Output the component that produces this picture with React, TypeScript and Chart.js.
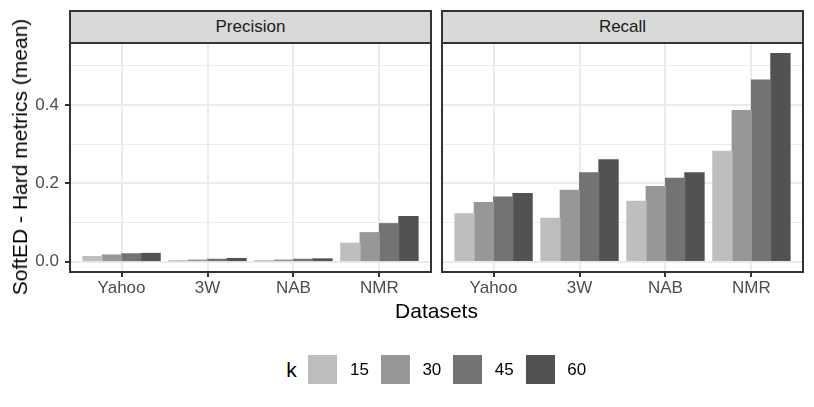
import React, { useEffect, useRef } from "react";
import { Chart, registerables } from "chart.js";

Chart.register(...registerables);

// ---------- data ----------
const categories = ["Yahoo", "3W", "NAB", "NMR"];
const kLevels = ["15", "30", "45", "60"];

const precision15 = [0.013, 0.002, 0.002, 0.047];
const precision30 = [0.017, 0.004, 0.004, 0.074];
const precision45 = [0.02, 0.006, 0.006, 0.097];
const precision60 = [0.021, 0.008, 0.007, 0.115];

const recall15 = [0.122, 0.111, 0.154, 0.282];
const recall30 = [0.151, 0.182, 0.192, 0.386];
const recall45 = [0.165, 0.227, 0.213, 0.464];
const recall60 = [0.174, 0.26, 0.227, 0.532];

const yTicks = [0, 0.1, 0.2, 0.3, 0.4, 0.5];
const yTickLabels = ["0.0", "", "0.2", "", "0.4", ""];

// ---------- style ----------
const FONT = "'Liberation Sans', Arial, Helvetica, sans-serif";
const fills = ["#BEBEBE", "#979797", "#737373", "#525252"];
const Y_MIN = -0.0266;
const Y_MAX = 0.5586;

Chart.defaults.font.family = FONT;

type PanelProps = {
  series: number[][];
  showY: boolean;
  canvasLeft: number;
  canvasWidth: number;
  yAxisWidth: number;
  padRight: number;
};

const CANVAS_H = 300;
const AREA_TOP = 43;
const AREA_BOTTOM = 272;

const borderPlugin = {
  id: "panelBorder",
  afterDraw(chart: any) {
    const { ctx, chartArea } = chart;
    ctx.save();
    ctx.strokeStyle = "#333333";
    ctx.lineWidth = 2;
    ctx.strokeRect(
      chartArea.left,
      chartArea.top,
      chartArea.right - chartArea.left,
      chartArea.bottom - chartArea.top
    );
    ctx.restore();
  },
};

function Panel({ series, showY, canvasLeft, canvasWidth, yAxisWidth, padRight }: PanelProps) {
  const ref = useRef<HTMLCanvasElement | null>(null);
  useEffect(() => {
    if (!ref.current) return;
    const chart = new Chart(ref.current, {
      type: "bar",
      data: {
        datasets: series.map((vals, si) => ({
          label: kLevels[si],
          data: vals.map((v, i) => ({ x: i, y: v })),
          backgroundColor: fills[si],
          borderWidth: 0,
          inflateAmount: 0.5,
          categoryPercentage: 0.9,
          barPercentage: 1.0,
        })),
      },
      options: {
        responsive: false,
        maintainAspectRatio: false,
        animation: false,
        devicePixelRatio: 1,
        layout: { padding: { top: AREA_TOP, right: padRight, left: 0, bottom: 0 } },
        plugins: { legend: { display: false }, tooltip: { enabled: false } },
        scales: {
          x: {
            type: "linear",
            min: -0.6,
            max: 3.6,
            offset: false,
            afterBuildTicks: (ax: any) => {
              ax.ticks = categories.map((_, i) => ({ value: i }));
            },
            afterFit: (ax: any) => {
              ax.height = CANVAS_H - AREA_BOTTOM;
            },
            grid: {
              offset: false,
              color: "#EBEBEB",
              lineWidth: 2,
              drawTicks: true,
              tickLength: 5,
              tickColor: "#333333",
              tickWidth: 2,
            },
            border: { display: false },
            ticks: {
              autoSkip: false,
              maxRotation: 0,
              padding: 1,
              color: "#4D4D4D",
              font: { family: FONT, size: 17 },
              callback: (_v: any, idx: number) => categories[idx],
            },
          },
          y: {
            type: "linear",
            min: Y_MIN,
            max: Y_MAX,
            afterBuildTicks: (ax: any) => {
              ax.ticks = yTicks.map((v) => ({ value: v }));
            },
            afterFit: (ax: any) => {
              ax.width = yAxisWidth;
            },
            grid: {
              color: "#EBEBEB",
              lineWidth: (c: any) => (c.index % 2 === 0 ? 2 : 1),
              drawTicks: showY,
              tickLength: 5,
              tickColor: (c: any) => (c.index % 2 === 0 ? "#333333" : "rgba(0,0,0,0)"),
              tickWidth: 2,
            },
            border: { display: false },
            ticks: {
              display: showY,
              padding: 6,
              color: "#4D4D4D",
              font: { family: FONT, size: 17 },
              callback: (_v: any, idx: number) => yTickLabels[idx],
            },
          },
        },
      },
      plugins: [borderPlugin],
    } as any);
    return () => chart.destroy();
  }, []);
  return (
    <canvas
      ref={ref}
      width={canvasWidth}
      height={CANVAS_H}
      style={{ position: "absolute", left: canvasLeft, top: 0, width: canvasWidth, height: CANVAS_H }}
    />
  );
}

function Strip({ left, width, text }: { left: number; width: number; text: string }) {
  return (
    <div
      style={{
        position: "absolute",
        left,
        top: 10,
        width,
        height: 34,
        boxSizing: "border-box",
        border: "2px solid #333333",
        background: "#D9D9D9",
        color: "#1A1A1A",
        font: `17px ${FONT}`,
        display: "flex",
        alignItems: "center",
        justifyContent: "center",
      }}
    >
      {text}
    </div>
  );
}

export default function App() {
  return (
    <div
      style={{
        position: "fixed",
        left: 0,
        top: 0,
        width: 814,
        height: 407,
        background: "#FFFFFF",
        overflow: "hidden",
        fontFamily: FONT,
      }}
    >
      <Panel
        series={[precision15, precision30, precision45, precision60]}
        showY={true}
        canvasLeft={0}
        canvasWidth={437}
        yAxisWidth={70}
        padRight={6}
      />
      <Panel
        series={[recall15, recall30, recall45, recall60]}
        showY={false}
        canvasLeft={437}
        canvasWidth={377}
        yAxisWidth={5}
        padRight={11}
      />
      <Strip left={69} width={363} text="Precision" />
      <Strip left={441} width={363} text="Recall" />

      {/* y axis title */}
      <div
        style={{
          position: "absolute",
          left: 20,
          top: 157,
          transform: "translate(-50%, -50%) rotate(-90deg)",
          whiteSpace: "nowrap",
          font: `21px ${FONT}`,
          color: "#000000",
        }}
      >
        SoftED - Hard metrics (mean)
      </div>

      {/* x axis title */}
      <div
        style={{
          position: "absolute",
          left: 436.5,
          top: 311,
          transform: "translate(-50%, -50%)",
          whiteSpace: "nowrap",
          font: `21px ${FONT}`,
          color: "#000000",
        }}
      >
        Datasets
      </div>

      {/* legend */}
      <div
        style={{
          position: "absolute",
          left: 291.5,
          top: 370,
          transform: "translate(-50%, -50%)",
          font: `21px ${FONT}`,
          color: "#000000",
        }}
      >
        k
      </div>
      {kLevels.map((k, i) => (
        <React.Fragment key={k}>
          <div
            style={{
              position: "absolute",
              left: 308 + i * 72.7,
              top: 355,
              width: 29,
              height: 29,
              background: fills[i],
            }}
          />
          <div
            style={{
              position: "absolute",
              left: 350 + i * 72.4,
              top: 370,
              transform: "translateY(-50%)",
              font: `17px ${FONT}`,
              color: "#000000",
              whiteSpace: "nowrap",
            }}
          >
            {k}
          </div>
        </React.Fragment>
      ))}
    </div>
  );
}
